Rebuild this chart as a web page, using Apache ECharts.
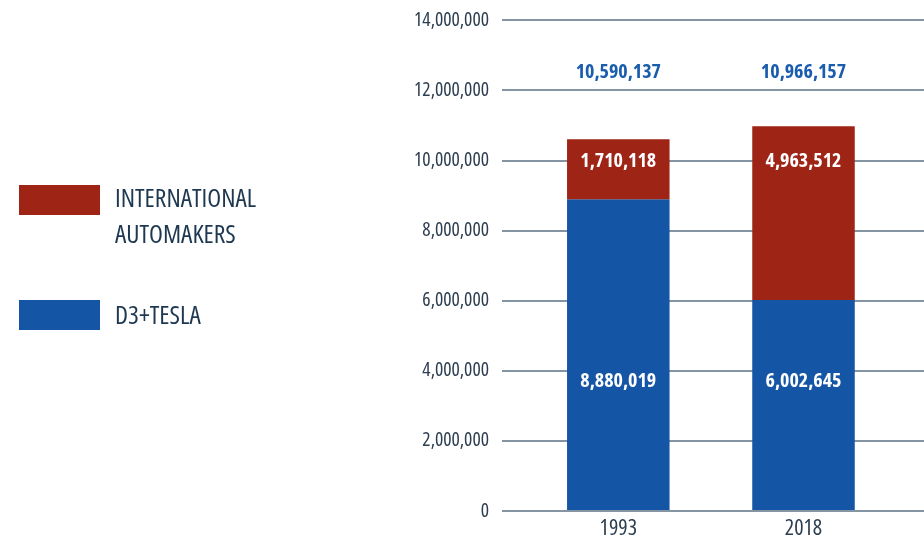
<!DOCTYPE html>
<html>
<head>
<meta charset="utf-8">
<script src="https://cdn.jsdelivr.net/npm/echarts@6/dist/echarts.min.js"></script>
<style>
  html, body { margin: 0; padding: 0; background: #fff; }
  #chart { width: 924px; height: 540px; }
</style>
</head>
<body>
<div id="chart"></div>
<script>
const years = ['1993', '2018']
const d3Tesla = [8880019, 6002645]
const international = [1710118, 4963512]
const yTicks = [0, 2000000, 4000000, 6000000, 8000000, 10000000, 12000000, 14000000]

// Open Sans has a width axis, 'condensed' goes in front of the weight in the canvas font string
const FONT = '"Open Sans", sans-serif'
const NARROW = 'condensed'
const RED = '#9e2416'
const BLUE = '#1555a5'
const TEXT = '#2c3e50'

// the picture puts the value labels at fixed heights (axis units)
const totalLabelAt = 12520000
const redLabelAt = 9950000
const blueLabelAt = 3680000

const fmt = v => v.toLocaleString('en-US')
const totals = years.map((y, i) => d3Tesla[i] + international[i])

const labelSeries = (name, at, values, color) => ({
    name: name,
    type: 'scatter',
    xAxisIndex: 1,
    yAxisIndex: 1,
    symbolSize: 0,
    silent: true,
    z: 10,
    itemStyle: {opacity: 1},
    data: years.map((y, i) => ({
        value: [y, at],
        label: {formatter: fmt(values[i])}
    })),
    label: {
        show: true,
        position: 'inside',
        color: color,
        opacity: 1,
        fontFamily: FONT,
        fontStyle: NARROW,
        fontWeight: 'bold',
        fontSize: 20
    }
})

const myChart = echarts.init(document.getElementById('chart'), null, {renderer: 'canvas'})
myChart.setOption({
    animation: false,
    graphic: [
        {type: 'rect', left: 19, top: 185, shape: {width: 81, height: 30}, style: {fill: RED}},
        {
            type: 'text', left: 115, top: 182,
            style: {text: 'INTERNATIONAL\nAUTOMAKERS', fontFamily: FONT, fontStyle: NARROW, fontSize: 25.5, lineHeight: 36, fill: '#1d3850'}
        },
        {type: 'rect', left: 19, top: 300, shape: {width: 81, height: 30}, style: {fill: BLUE}},
        {
            type: 'text', left: 115, top: 299,
            style: {text: 'D3+TESLA', fontFamily: FONT, fontStyle: NARROW, fontSize: 25.5, lineHeight: 36, fill: '#1d3850'}
        }
    ],
    grid: [
        {left: 502, right: 0, top: 20, bottom: 29},
        {left: 525.7, width: 370.4, top: 20, bottom: 29}
    ],
    xAxis: [
        {gridIndex: 0, type: 'category', data: years, show: false},
        {
            gridIndex: 1,
            type: 'category',
            data: years,
            axisLine: {show: false},
            axisTick: {show: false},
            axisLabel: {fontFamily: FONT, fontStyle: NARROW, fontWeight: 500, fontSize: 22, color: TEXT, margin: 8}
        }
    ],
    yAxis: [
        {
            gridIndex: 0,
            type: 'value',
            min: yTicks[0],
            max: yTicks[yTicks.length - 1],
            interval: yTicks[1] - yTicks[0],
            axisLine: {show: false},
            axisTick: {show: false},
            axisLabel: {fontFamily: FONT, fontStyle: NARROW, fontWeight: 500, fontSize: 19.5, color: TEXT, margin: 13, formatter: v => fmt(v)},
            splitLine: {lineStyle: {color: '#8494a3', width: 1.8}}
        },
        {
            gridIndex: 1,
            type: 'value',
            min: yTicks[0],
            max: yTicks[yTicks.length - 1],
            interval: yTicks[1] - yTicks[0],
            show: false,
            splitLine: {show: false}
        }
    ],
    series: [
        {
            name: 'D3+TESLA',
            type: 'bar',
            stack: 'sales',
            xAxisIndex: 1,
            yAxisIndex: 1,
            barWidth: 102.5,
            itemStyle: {color: BLUE},
            data: d3Tesla
        },
        {
            name: 'INTERNATIONAL AUTOMAKERS',
            type: 'bar',
            stack: 'sales',
            xAxisIndex: 1,
            yAxisIndex: 1,
            barWidth: 102.5,
            itemStyle: {color: RED},
            data: international
        },
        labelSeries('totalLabels', totalLabelAt, totals, '#1a5cad'),
        labelSeries('redLabels', redLabelAt, international, '#ffffff'),
        labelSeries('blueLabels', blueLabelAt, d3Tesla, '#ffffff')
    ]
})
</script>
</body>
</html>
